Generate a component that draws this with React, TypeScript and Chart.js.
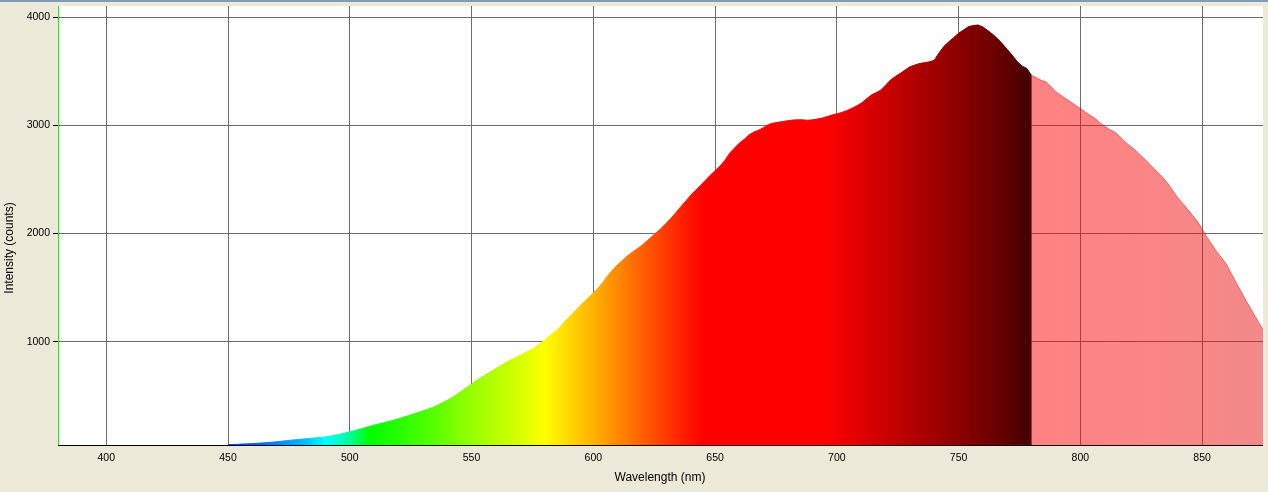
import React, { useEffect, useRef } from "react";
import { Chart, registerables } from "chart.js";

Chart.register(...registerables);

// ---- data ----
const wavelengthStart = 450; // nm
const wavelengthStep = 2; // nm
const intensity = [
  48, 50, 51, 54, 56, 58, 61, 64, 67, 71,
  75, 80, 85, 90, 94, 98, 102, 106, 111, 115,
  120, 128, 136, 145, 156, 167, 178, 190, 203, 216,
  228, 240, 251, 262, 274, 288, 302, 316, 330, 345,
  360, 376, 392, 413, 435, 458, 484, 514, 545, 577,
  608, 640, 670, 698, 725, 752, 780, 805, 830, 852,
  875, 898, 920, 945, 980, 1015, 1055, 1090, 1125, 1180,
  1225, 1270, 1318, 1365, 1405, 1450, 1495, 1550, 1612, 1665,
  1712, 1752, 1793, 1827, 1858, 1890, 1930, 1970, 2010, 2050,
  2096, 2143, 2195, 2249, 2300, 2352, 2398, 2444, 2490, 2537,
  2580, 2622, 2675, 2742, 2790, 2835, 2870, 2912, 2938, 2955,
  2980, 3008, 3020, 3028, 3035, 3042, 3048, 3050, 3050, 3046,
  3050, 3058, 3066, 3080, 3094, 3106, 3118, 3135, 3155, 3178,
  3203, 3240, 3277, 3300, 3324, 3370, 3417, 3450, 3479, 3510,
  3540, 3556, 3571, 3578, 3586, 3600, 3670, 3730, 3772, 3810,
  3850, 3880, 3910, 3922, 3926, 3908, 3875, 3840, 3800, 3752,
  3700, 3648, 3590, 3548, 3525, 3460, 3440, 3415, 3400, 3355,
  3308, 3278, 3247, 3216, 3185, 3155, 3123, 3093, 3065, 3024,
  2990, 2960, 2940, 2900, 2855, 2815, 2780, 2740, 2697, 2650,
  2605, 2560, 2515, 2460, 2395, 2330, 2280, 2225, 2170, 2115,
  2040, 1965, 1900, 1830, 1775, 1715, 1630, 1545, 1465, 1380,
  1305, 1225, 1150, 1075,
];
const xTickValues = [400, 450, 500, 550, 600, 650, 700, 750, 800, 850];
const yTickValues = [1000, 2000, 3000, 4000];
const xMin = 380.6;
const xMax = 875;
const yMin = 45;
const yMax = 4102;
const xTitle = "Wavelength (nm)";
const yTitle = "Intensity (counts)";

// spectrum colour stops: [nm, colour]
const spectrumStops: [number, string][] = [
  [450, "rgb(0,64,255)"],
  [465, "rgb(0,110,255)"],
  [480, "rgb(0,180,255)"],
  [490, "rgb(0,255,255)"],
  [500, "rgb(0,255,150)"],
  [508, "rgb(0,255,0)"],
  [530, "rgb(70,255,0)"],
  [550, "rgb(150,255,0)"],
  [570, "rgb(215,255,0)"],
  [580, "rgb(255,255,0)"],
  [590, "rgb(255,215,0)"],
  [600, "rgb(255,178,0)"],
  [620, "rgb(255,96,0)"],
  [645, "rgb(255,0,0)"],
  [695, "rgb(255,0,0)"],
  [720, "rgb(204,0,0)"],
  [745, "rgb(150,0,0)"],
  [765, "rgb(108,0,0)"],
  [779.9, "rgb(68,0,0)"],
  [780, "rgba(255,0,0,0.49)"],
  [830, "rgba(245,8,8,0.49)"],
  [876, "rgba(228,20,20,0.5)"],
];

const BG = "#ECE9D8";
const FONT = "'Liberation Sans', Arial, sans-serif";

function makeGradient(chart: any) {
  const { ctx, scales } = chart;
  const xs = scales && scales.x;
  if (!xs) return "red";
  const lo = spectrumStops[0][0];
  const hi = spectrumStops[spectrumStops.length - 1][0];
  const x0 = xs.getPixelForValue(lo);
  const x1 = xs.getPixelForValue(hi);
  if (!Number.isFinite(x0) || !Number.isFinite(x1) || x0 === x1) return "red";
  const g = ctx.createLinearGradient(x0, 0, x1, 0);
  spectrumStops.forEach(([nm, c]) => g.addColorStop((nm - lo) / (hi - lo), c));
  return g;
}

const framePlugin = {
  id: "frame",
  beforeDraw(chart: any) {
    const { ctx, chartArea: a, width, height } = chart;
    ctx.save();
    ctx.fillStyle = BG;
    ctx.fillRect(0, 0, width, height);
    ctx.fillStyle = "#ffffff";
    ctx.fillRect(a.left, a.top, a.right - a.left, a.bottom - a.top);
    ctx.restore();
  },
  afterDatasetsDraw(chart: any) {
    const { ctx, chartArea: a, width } = chart;
    ctx.save();
    // keep everything right of the plot area as background
    ctx.fillStyle = BG;
    ctx.fillRect(a.right, 0, width - a.right, a.bottom + 1);
    ctx.fillStyle = "#000000";
    ctx.fillRect(a.left - 1, a.bottom, a.right - a.left + 1, 1);
    ctx.fillStyle = "#00FF00";
    ctx.fillRect(a.left - 1, a.top, 1, a.bottom - a.top);
    ctx.restore();
  },
  afterDraw(chart: any) {
    const { ctx } = chart;
    ctx.save();
    ctx.fillStyle = "#000000";
    ctx.font = `12px ${FONT}`;
    ctx.textAlign = "center";
    ctx.textBaseline = "middle";
    ctx.fillText(xTitle, 660, 478);
    ctx.translate(10, 248);
    ctx.rotate(-Math.PI / 2);
    ctx.fillText(yTitle, 0, 0);
    ctx.restore();
  },
};

export default function App() {
  const ref = useRef<HTMLCanvasElement | null>(null);
  useEffect(() => {
    document.body.style.margin = "0";
    const canvas = ref.current;
    if (!canvas) return;
    const points = intensity.map((v, i) => ({ x: wavelengthStart + i * wavelengthStep, y: v }));
    const chart = new Chart(canvas, {
      type: "line",
      data: {
        datasets: [
          {
            data: points,
            fill: "start",
            borderWidth: 1,
            pointRadius: 0,
            tension: 0,
            clip: 0,
            backgroundColor: (c: any) => makeGradient(c.chart),
            borderColor: (c: any) => makeGradient(c.chart),
          },
        ],
      },
      options: {
        animation: false,
        responsive: false,
        layout: { padding: { top: 6, right: 5, left: 0, bottom: 0 } },
        plugins: { legend: { display: false }, tooltip: { enabled: false } },
        scales: {
          x: {
            type: "linear",
            min: xMin,
            max: xMax,
            afterBuildTicks: (s: any) => {
              s.ticks = xTickValues.map((v) => ({ value: v }));
            },
            afterFit: (s: any) => {
              s.height = 47;
              s.paddingLeft = 0;
              s.paddingRight = 0;
            },
            grid: { color: "#6e6e6e", lineWidth: 1, drawTicks: false },
            border: { display: false },
            ticks: {
              color: "#000",
              font: { family: FONT, size: 10.5 },
              padding: 7,
              maxRotation: 0,
              autoSkip: false,
              callback: (v: any) => String(v),
            },
          },
          y: {
            type: "linear",
            min: yMin,
            max: yMax,
            afterBuildTicks: (s: any) => {
              s.ticks = yTickValues.map((v) => ({ value: v }));
            },
            afterFit: (s: any) => {
              s.width = 59;
              s.paddingTop = 0;
              s.paddingBottom = 0;
            },
            grid: { color: "#6e6e6e", lineWidth: 1, tickColor: "#000", tickLength: 6 },
            border: { display: false },
            ticks: {
              color: "#000",
              font: { family: FONT, size: 10.5 },
              padding: 3,
              autoSkip: false,
              callback: (v: any) => String(v),
            },
          },
        },
      },
      plugins: [framePlugin],
    });
    return () => chart.destroy();
  }, []);
  return (
    <div style={{ position: "fixed", left: 0, top: 0, width: 1268, height: 492, background: BG }}>
      <canvas ref={ref} width={1268} height={492} style={{ display: "block", width: 1268, height: 492 }} />
      <div style={{ position: "absolute", left: 0, top: 0, width: 1268, height: 2, background: "#7f9db9" }} />
    </div>
  );
}
